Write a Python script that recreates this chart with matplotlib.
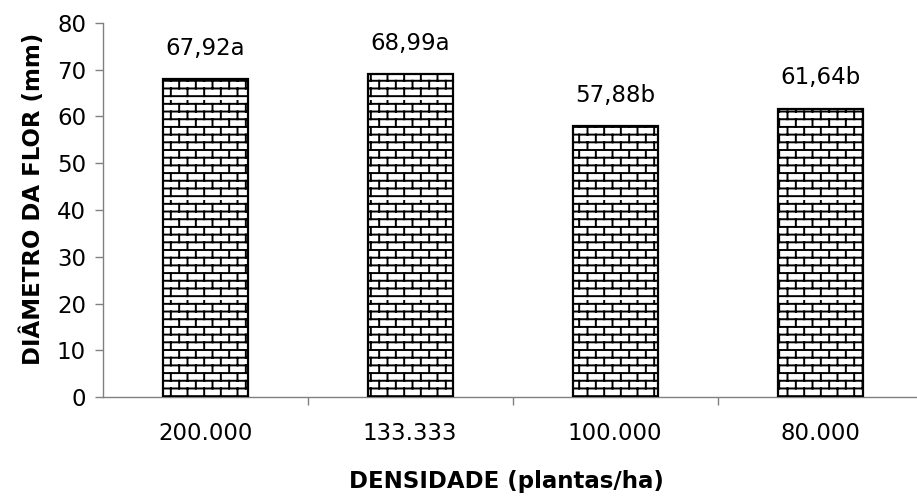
import warnings
import numpy as np
import matplotlib
matplotlib.use("Agg")
import matplotlib.pyplot as plt
from matplotlib import hatch as mhatch
from matplotlib.path import Path
from matplotlib.ticker import FixedLocator

warnings.filterwarnings("ignore")

# Data
densidades = ["200.000", "133.333", "100.000", "80.000"]
diametros = [67.92, 68.99, 57.88, 61.64]
letras = ["a", "a", "b", "b"]


class BrickHatch(mhatch.HatchPatternBase):
    """Running-bond brick pattern inside one hatch tile."""
    rows = 13
    cols = 6

    def __init__(self, hatch, density):
        self.active = len(hatch) > 0
        n_h = self.rows
        n_v = self.rows * self.cols
        self.num_vertices = 2 * (n_h + n_v) if self.active else 0

    def set_vertices_and_codes(self, vertices, codes):
        segs = []
        dy = 1.0 / self.rows
        dx = 1.0 / self.cols
        for r in range(self.rows):
            y0 = (r + 0.5) * dy
            segs.append(((-0.1, y0), (1.1, y0)))
            off = 0.25 if r % 2 == 0 else 0.75
            for c in range(self.cols):
                x = (c + off) * dx
                segs.append(((x, y0), (x, y0 + dy)))
        pts = np.array(segs).reshape(-1, 2)
        vertices[:] = pts
        codes[0::2] = Path.MOVETO
        codes[1::2] = Path.LINETO


mhatch._hatch_types = [BrickHatch]

plt.rcParams["font.family"] = ["DejaVu Sans"]
plt.rcParams["hatch.linewidth"] = 1.4
plt.rcParams["hatch.color"] = "black"

fig = plt.figure(figsize=(9.17, 4.96), dpi=100)
ax = fig.add_axes([0.112, 0.199, 0.894, 0.755])

x = np.arange(len(densidades))
bars = ax.bar(x, diametros, width=0.415, facecolor="white",
              edgecolor="black", linewidth=1.6, hatch="+", zorder=3)

for xi, v, l in zip(x, diametros, letras):
    ax.annotate(f"{v:.2f}".replace(".", ",") + l, (xi, v),
                xytext=(0, 14), textcoords="offset points",
                ha="center", va="bottom", fontsize=16.5)

ax.set_xlim(-0.5, 3.5)
ax.set_ylim(0, 80)
ax.set_yticks(np.arange(0, 81, 10))
ax.set_xticks(x)
ax.set_xticklabels(densidades)
ax.xaxis.set_minor_locator(FixedLocator([0.5, 1.5, 2.5]))

gray = "#808080"
for s in ["top", "right"]:
    ax.spines[s].set_visible(False)
for s in ["left", "bottom"]:
    ax.spines[s].set_color(gray)
    ax.spines[s].set_linewidth(1.0)

ax.tick_params(axis="y", which="major", direction="out", length=6,
               width=1.0, color=gray, labelsize=16.5, pad=6)
ax.tick_params(axis="x", which="major", length=0, labelsize=16.5, pad=18)
ax.tick_params(axis="x", which="minor", direction="out", length=6,
               width=1.0, color=gray)

ax.set_xlabel("DENSIDADE (plantas/ha)", fontsize=16.5, fontweight="bold")
ax.set_ylabel("DIÂMETRO DA FLOR (mm)", fontsize=16.5, fontweight="bold")
ax.xaxis.set_label_coords(0.493, -0.195)
ax.yaxis.set_label_coords(-0.07, 0.529)

fig.savefig("out.png", dpi=100)
